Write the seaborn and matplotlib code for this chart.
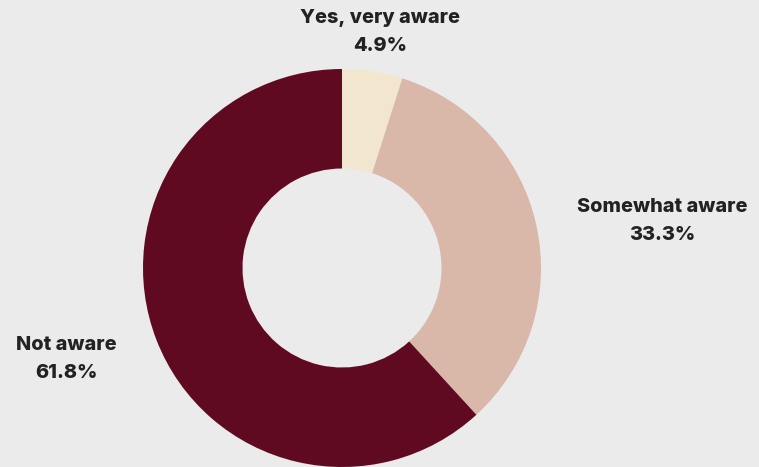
import matplotlib
matplotlib.use("Agg")
import matplotlib.pyplot as plt
import seaborn as sns

categories = ["Yes, very aware", "Somewhat aware", "Not aware"]
shares = [4.9, 33.3, 61.8]
colors = ["#f3e6cf", "#d9b8aa", "#600a22"]

# label anchor points (pixel space, y measured from top)
label_pos = [(380, 32), (662, 221), (66, 359)]

sns.set_theme(style="white")
plt.rcParams["font.family"] = ["Inter", "DejaVu Sans"]

W, H = 759, 467
fig = plt.figure(figsize=(W / 100, H / 100), dpi=100)
fig.patch.set_facecolor("#ebebeb")
ax = fig.add_axes([0, 0, 1, 1])
ax.set_facecolor("#ebebeb")

cx, cy, r = 342, 268, 199
ax.pie(
    shares,
    colors=colors,
    startangle=90,
    counterclock=False,
    center=(cx, H - cy),
    radius=r,
    wedgeprops=dict(width=r / 2, linewidth=0),
    frame=True,
)
ax.set_xlim(0, W)
ax.set_ylim(0, H)
ax.set_aspect("equal")
ax.axis("off")

for name, val, (lx, ly) in zip(categories, shares, label_pos):
    ax.text(lx, H - ly, f"{name}\n{val:.1f}%", ha="center", va="center",
            fontsize=14.3, fontweight="heavy", color="#222222", linespacing=1.65)

fig.savefig("out.png", dpi=100, facecolor=fig.get_facecolor())
